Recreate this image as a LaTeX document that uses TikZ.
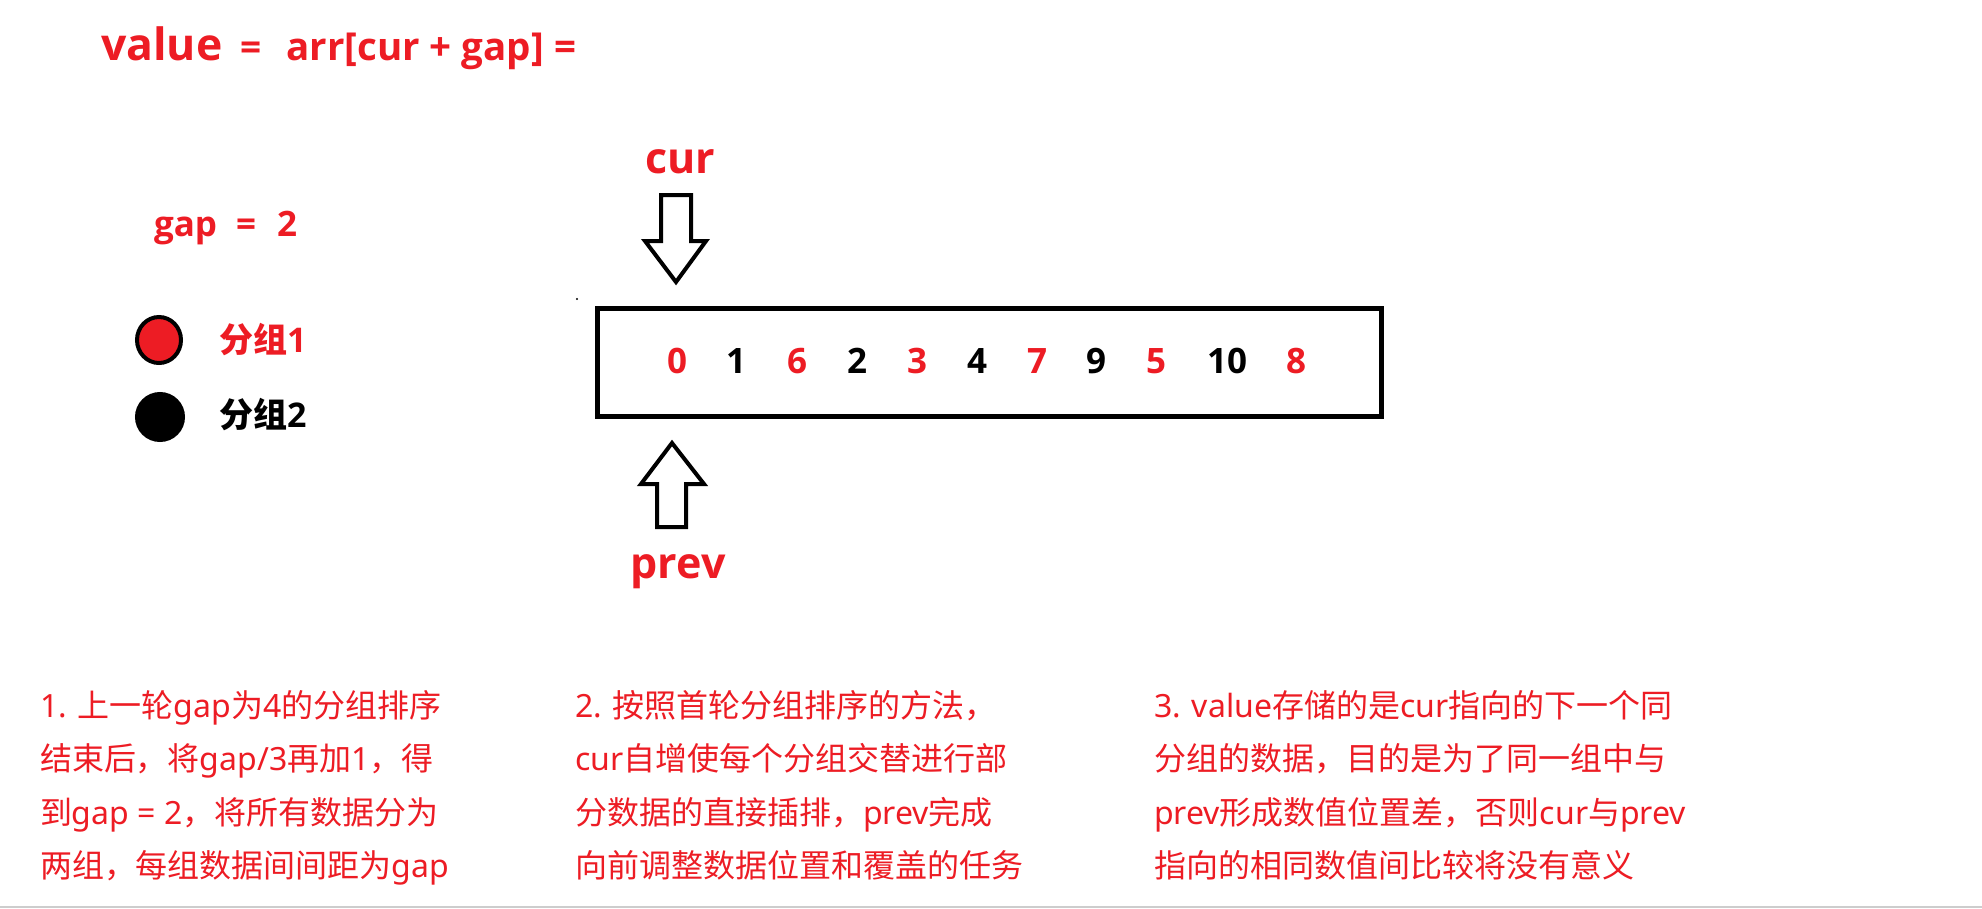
\documentclass[tikz,border=0pt]{standalone}
\usepackage{fontspec}
\usetikzlibrary{shapes.geometric}
\setmainfont{Noto Sans}
\newfontfamily\latb{Open Sans}
\newfontfamily\cjk{Noto Sans CJK SC}
\definecolor{pred}{RGB}{237,28,36}
\definecolor{lgray}{RGB}{205,205,205}
\newcommand\zh[1]{{\cjk #1}}
\newcommand\fs[1]{\fontsize{#1}{#1}\selectfont}
\begin{document}
\begin{tikzpicture}[x=1pt,y=-1pt,
  lbl/.style={inner sep=0pt, outer sep=0pt},
  note/.style={lbl, anchor=base west, text=pred, font=\fs{32}},
  num/.style={lbl, anchor=base, font=\latb\bfseries\fs{35}},
  ptr/.style={draw=black, line width=4pt, fill=white, line join=miter},
  legdot/.style={draw=black, ellipse, line width=4pt, inner sep=0pt},
  ptrlabel/.style={lbl, anchor=base, text=pred, font=\latb\bfseries\fs{43}}]

\useasboundingbox[fill=white] (0,0) rectangle (1982,908);

% title
\node[lbl, anchor=base west, text=pred, font=\latb\bfseries] (title) at (101,60)
  {\fs{44.5}value\hspace{18pt}\fs{37}=\hspace{25pt}\fs{38.5}arr[cur + gap] =};

% gap
\node[lbl, anchor=base west, text=pred, font=\latb\bfseries\fs{35}] (gap) at (154,236)
  {gap\hspace{19pt}=\hspace{21pt}2};

% legend
\node[legdot, fill=pred, minimum width=44pt, minimum height=46pt] (dot1) at (159,340) {};
\node[legdot, fill=black, minimum width=46pt, minimum height=46pt] (dot2) at (160,417) {};
\node[lbl, anchor=base west, text=pred, font=\latb\bfseries\fs{34}] (g1) at (219,352) {\zh{分组}1};
\node[lbl, anchor=base west, text=black, font=\latb\bfseries\fs{34}] (g2) at (219,427) {\zh{分组}2};

% array box
\node[draw=black, line width=5pt, minimum width=784pt, minimum height=108pt,
      inner sep=0pt, outer sep=0pt] (box) at (989.5,362.5) {};
\fill (577,299) circle (1.2pt);

\foreach \x/\v/\c [count=\i] in {677/0/pred, 736/1/black, 797/6/pred, 857/2/black,
    917/3/pred, 977/4/black, 1037/7/pred, 1096/9/black, 1156/5/pred,
    1227/10/black, 1296/8/pred}
  \node[num, text=\c] (n\i) at (\x,373) {\v};

% cur pointer
\node[ptrlabel] (cur) at (680,173) {cur};
\draw[ptr] (661,195) -- (691,195) -- (691,241) -- (706,241) -- (676,282)
  -- (645,241) -- (661,241) -- cycle;

% prev pointer
\draw[ptr] (672,443) -- (704,484) -- (686,484) -- (686,527) -- (657,527)
  -- (657,484) -- (641,484) -- cycle;
\node[ptrlabel] (prev) at (678,578) {prev};

% notes column 1
\node[note] (a1) at (40,717) {1. \zh{上一轮}gap\zh{为}4\zh{的分组排序}};
\node[note] (a2) at (40,770) {\zh{结束后，将}gap/3\zh{再加}1\zh{，得}};
\node[note] (a3) at (40,824) {\zh{到}gap = 2\zh{，将所有数据分为}};
\node[note] (a4) at (40,877) {\zh{两组，每组数据间间距为}gap};

% notes column 2
\node[note] (b1) at (575,717) {2. \zh{按照首轮分组排序的方法，}};
\node[note] (b2) at (575,770) {cur\zh{自增使每个分组交替进行部}};
\node[note] (b3) at (575,824) {\zh{分数据的直接插排，}prev\zh{完成}};
\node[note] (b4) at (575,877) {\zh{向前调整数据位置和覆盖的任务}};

% notes column 3
\node[note] (c1) at (1154,717) {3. value\zh{存储的是}cur\zh{指向的下一个同}};
\node[note] (c2) at (1154,770) {\zh{分组的数据，目的是为了同一组中与}};
\node[note] (c3) at (1154,824) {prev\zh{形成数值位置差，否则}cur\zh{与}prev};
\node[note] (c4) at (1154,877) {\zh{指向的相同数值间比较将没有意义}};

% bottom edge line
\coordinate (bl) at (0,907);
\coordinate (br) at (1982,907);
\draw[lgray, line width=2pt] (bl) -- (br);
\end{tikzpicture}
\end{document}
